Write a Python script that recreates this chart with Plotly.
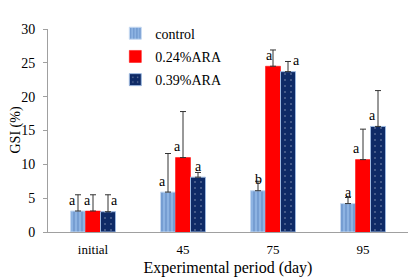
import plotly.graph_objects as go

categories = ["initial", "45", "75", "95"]
series_names = ["control", "0.24%ARA", "0.39%ARA"]
control = [3.1, 5.9, 6.1, 4.2]
ara024 = [3.1, 11.0, 24.5, 10.7]
ara039 = [3.0, 8.1, 23.7, 15.6]
err_control = [2.4, 5.7, 1.4, 0.9]
err_ara024 = [2.4, 6.8, 2.4, 4.5]
err_ara039 = [2.5, 0.7, 1.5, 5.3]
letters_control = ["a", "a", "b", "a"]
letters_ara024 = ["a", "a", "a", "a"]
letters_ara039 = ["a", "a", "a", "a"]
y_title = "GSI (%)"
x_title = "Experimental period (day)"

values = [control, ara024, ara039]
errors = [err_control, err_ara024, err_ara039]
letters = [letters_control, letters_ara024, letters_ara039]
xpos = list(range(len(categories)))

FONT = "Liberation Serif"
styles = [
    dict(color="#8DB3E2", line=dict(color="#C6D9F1", width=1),
         pattern=dict(shape="|", fgcolor="#4A75B5", size=4, solidity=0.35)),
    dict(color="#FF0000", line=dict(color="#FF0000", width=0.5)),
    dict(color="#0E2A66", line=dict(color="#9DB9E0", width=1),
         pattern=dict(shape=".", fgcolor="#FFFFFF", size=6, solidity=0.06)),
]
label_xshift = [[-6, -6, 0, 0], [-6, -6, -4, -7], [6, 0, 8, -6]]
bar_w = 1 / 6
offsets = [-1.5 * bar_w, -0.5 * bar_w, 0.5 * bar_w]

fig = go.Figure()
for i, name in enumerate(series_names):
    fig.add_trace(go.Bar(
        x=xpos, y=values[i], name=name, marker=styles[i],
        width=bar_w, offset=offsets[i], legendgroup=name,
        error_y=dict(type="data", array=errors[i], arrayminus=[0] * len(xpos),
                     color="#333333", thickness=1, width=3),
    ))

for i in range(3):
    for j in xpos:
        fig.add_annotation(
            x=j + offsets[i] + bar_w / 2, y=values[i][j], xref="x", yref="y",
            text=letters[i][j], showarrow=False, xshift=label_xshift[i][j],
            yshift=11, font=dict(family=FONT, size=14, color="#000000"),
        )

# y-axis title as a rotated annotation left of the tick labels
fig.add_annotation(
    x=0, y=0.5, xref="paper", yref="paper", text=y_title, textangle=-90,
    showarrow=False, xanchor="center", yanchor="middle", xshift=-33,
    font=dict(family=FONT, size=14, color="#000000"),
)

# page body adds an 8px offset, so the figure is 8px smaller and margins compensate
fig.update_layout(
    width=410, height=271,
    margin=dict(l=40, r=10, t=11, b=47),
    paper_bgcolor="white", plot_bgcolor="white",
    font=dict(family=FONT, size=13, color="#000000"),
    showlegend=True,
    legend=dict(x=0.187, y=1.056, xanchor="left", yanchor="top",
                font=dict(family=FONT, size=14), tracegroupgap=2,
                bgcolor="rgba(0,0,0,0)"),
    xaxis=dict(range=[-0.5, len(categories) - 0.5], tickvals=xpos, ticktext=categories,
               showline=True, linecolor="#A0A0A0", linewidth=1, ticks="", showgrid=False,
               zeroline=False, automargin=False, ticklabelstandoff=5,
               title=dict(text=x_title, standoff=6)),
    yaxis=dict(range=[0, 30], dtick=5, showgrid=False, zeroline=False,
               showline=True, linecolor="#A0A0A0", linewidth=1, automargin=False,
               ticks="outside", tickcolor="#A0A0A0", ticklen=4, ticklabelstandoff=5,
               tickfont=dict(size=14)),
)

fig.write_html("out.html")
